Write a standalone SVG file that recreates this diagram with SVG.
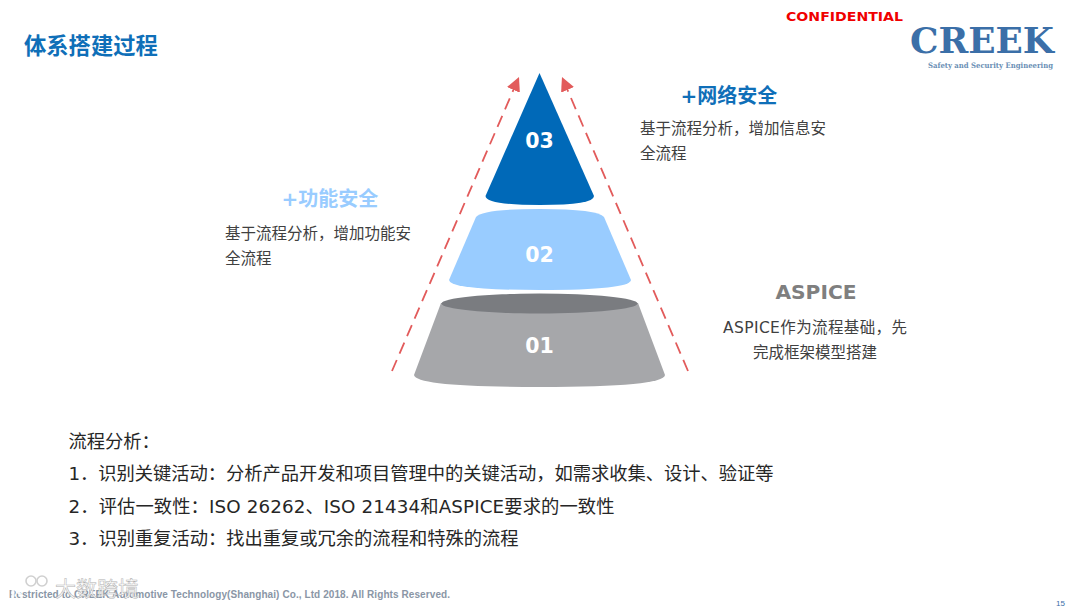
<svg xmlns="http://www.w3.org/2000/svg" width="1080" height="608" viewBox="0 0 1080 608">
<style>
text{font-family:"Microsoft YaHei","Noto Sans CJK SC","Noto Sans",sans-serif}
.v{font-family:"DejaVu Sans","Noto Sans CJK SC",sans-serif}
.b{font-size:15.5px;fill:#404040}
.l{font-size:18.3px;fill:#262626}
.n{font-family:"DejaVu Sans",sans-serif;font-weight:700;font-size:20.5px;fill:#fff;text-anchor:middle}
.h{font-family:"DejaVu Sans","Noto Sans CJK SC",sans-serif;font-weight:700;font-size:20px;text-anchor:middle}
.a{fill:none;stroke:#e25b5b;stroke-width:1.8;stroke-dasharray:12 7}
</style>
<defs><marker id="ah" markerWidth="16" markerHeight="16" refX="14" refY="7" orient="auto" markerUnits="userSpaceOnUse"><path d="M0 0L14 7L0 14Z" fill="#e25b5b"/></marker></defs>
<rect width="1080" height="608" fill="#fff"/>
<text id="title" x="24" y="54" font-size="22.3" font-weight="700" fill="#0f6fb8">体系搭建过程</text>
<g id="logo">
<text x="786" y="21" class="v" font-size="13" font-weight="700" fill="#f00000" textLength="117" lengthAdjust="spacingAndGlyphs">CONFIDENTIAL</text>
<text x="910" y="53" style="font-family:'DejaVu Serif',serif" font-size="35" font-weight="700" fill="#3b6fa8" textLength="144" lengthAdjust="spacingAndGlyphs">CREEK</text>
<text x="928" y="68" style="font-family:'DejaVu Serif',serif" font-size="7.5" font-weight="700" fill="#6b8fb5" textLength="125" lengthAdjust="spacingAndGlyphs">Safety and Security Engineering</text>
</g>
<g id="connectors">
<path class="a" d="M392 371L519 77" marker-end="url(#ah)"/>
<path class="a" d="M688 371L562 77" marker-end="url(#ah)"/>
</g>
<g id="node-03">
<path d="M539.5 73L485.5 196Q486 205 540 205Q594 205 594 196Z" fill="#0069b8"/>
<text class="n" x="539.5" y="148">03</text>
</g>
<g id="node-02">
<path d="M476 217Q482 209 540 209Q598 209 604 217L631 280Q630 290 540 290Q450 290 449 280Z" fill="#99ccff"/>
<text class="n" x="539.5" y="262">02</text>
</g>
<g id="node-01">
<path d="M441 303L414 375Q416 387 540 387Q664 387 665 375L638 303Z" fill="#a6a7aa"/>
<ellipse cx="539.5" cy="303.5" rx="98" ry="10" fill="#7a7c80"/>
<text class="n" x="539.5" y="353">01</text>
</g>
<g id="label-security">
<text class="h" x="729" y="102.500" fill="#0f6fb8">+网络安全</text>
<text class="b" x="640" y="133.500">基于流程分析，增加信息安</text>
<text class="b" x="640" y="158.500">全流程</text>
</g>
<g id="label-safety">
<text class="h" x="330" y="205.500" fill="#99ccff">+功能安全</text>
<text class="b" x="225" y="238.500">基于流程分析，增加功能安</text>
<text class="b" x="225" y="263.500">全流程</text>
</g>
<g id="label-aspice">
<text class="h" x="816" y="298.500" fill="#7f7f7f" style="font-size:20.2px">ASPICE</text>
<text class="b v" x="815" y="332.500" text-anchor="middle" textLength="184">ASPICE作为流程基础，先</text>
<text class="b" x="815" y="357.500" text-anchor="middle">完成框架模型搭建</text>
</g>
<g id="analysis">
<text class="l" x="68.500" y="448">流程分析：</text>
<text class="l v" x="68.500" y="480" textLength="705">1．识别关键活动：分析产品开发和项目管理中的关键活动，如需求收集、设计、验证等</text>
<text class="l v" x="68.500" y="513" textLength="546">2．评估一致性：ISO 26262、ISO 21434和ASPICE要求的一致性</text>
<text class="l v" x="68.500" y="545" textLength="450">3．识别重复活动：找出重复或冗余的流程和特殊的流程</text>
</g>
<g id="footer">
<text x="9" y="598" style="font-family:'Liberation Sans',sans-serif" font-size="10" font-weight="700" fill="#8a96a6" textLength="441" lengthAdjust="spacing">Restricted to CREEK Automotive Technology(Shanghai) Co., Ltd 2018. All Rights Reserved.</text>
<text x="1056" y="606" style="font-family:'Liberation Sans',sans-serif" font-size="8" fill="#3b6fa8">15</text>
</g>
<g id="watermark" fill="none" stroke="#fff">
<path d="M13 578V597M21 580L15 588L22 597" stroke-width="3" opacity=".9"/>
<circle cx="31" cy="581" r="5" stroke-width="1.6" stroke="#d0d0d0"/>
<circle cx="42" cy="581" r="5" stroke-width="1.6" stroke="#d0d0d0"/>
<text x="55" y="596" font-size="21" fill="#fff" stroke="#aaa" stroke-width=".5" opacity=".9">大数跨境</text>
</g>
</svg>
